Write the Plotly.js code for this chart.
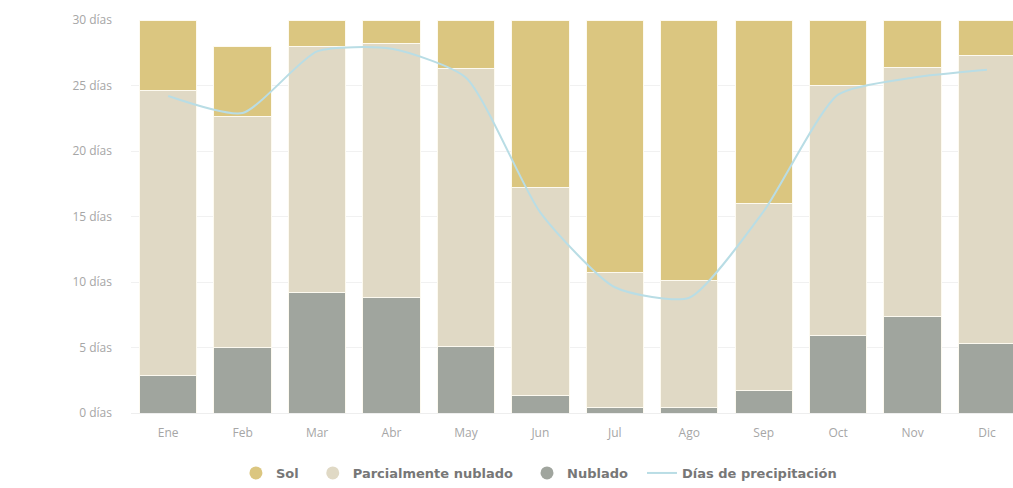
<!DOCTYPE html>
<html>
<head>
<meta charset="utf-8">
<script src="https://cdn.plot.ly/plotly-3.0.1.min.js"></script>
<style>
html,body{margin:0;padding:0;background:#fff;overflow:hidden;}
#chart{width:1013px;height:488px;}
</style>
</head>
<body>
<div id="chart"></div>
<script>
const months = ["Ene","Feb","Mar","Abr","May","Jun","Jul","Ago","Sep","Oct","Nov","Dic"];
const nublado = [2.9, 5.0, 9.2, 8.8, 5.1, 1.3, 0.4, 0.4, 1.7, 5.9, 7.4, 5.3];
const parcial = [21.7, 17.6, 18.8, 19.4, 21.2, 15.9, 10.3, 9.7, 14.3, 19.1, 19.0, 22.0];
const sol = [5.4, 5.4, 2.0, 1.8, 3.7, 12.8, 19.3, 19.9, 14.0, 5.0, 3.6, 2.7];
const precipitacion = [24.2, 22.9, 27.6, 27.8, 25.6, 15.3, 9.6, 8.8, 15.4, 24.3, 25.6, 26.2];
const yTicks = [0, 5, 10, 15, 20, 25, 30];
const yTickText = yTicks.map(v => v + " días");

const cSol = "#dbc680", cPar = "#e0d9c5", cNub = "#a0a59e", cLine = "#b9dde5";
const border = {color: "#fdfaf0", width: 1};

const traces = [
  {type:"bar", x: months, y: nublado, name:"Nublado", marker:{color:cNub, line:border}, showlegend:false, hoverinfo:"y"},
  {type:"bar", x: months, y: parcial, name:"Parcialmente nublado", marker:{color:cPar, line:border}, showlegend:false, hoverinfo:"y"},
  {type:"bar", x: months, y: sol, name:"Sol", marker:{color:cSol, line:border}, showlegend:false, hoverinfo:"y"},
  {type:"scatter", mode:"lines", x: months, y: precipitacion, name:"Días de precipitación", line:{color:cLine, width:2, shape:"spline", smoothing:0.6}, showlegend:false},
  {type:"scatter", mode:"markers", x:[null], y:[null], name:"Sol  ", marker:{color:cSol, size:13, symbol:"circle"}},
  {type:"scatter", mode:"markers", x:[null], y:[null], name:"Parcialmente nublado  ", marker:{color:cPar, size:13, symbol:"circle"}},
  {type:"scatter", mode:"markers", x:[null], y:[null], name:"Nublado  ", marker:{color:cNub, size:13, symbol:"circle"}},
  {type:"scatter", mode:"lines", x:[null], y:[null], name:"Días de precipitación", line:{color:cLine, width:2}}
];

const layout = {
  width: 1013, height: 488,
  margin: {l: 131, r: 0, t: 20, b: 74},
  paper_bgcolor: "#fff", plot_bgcolor: "#fff",
  barmode: "stack",
  bargap: 0.23,
  font: {family: "Open Sans, DejaVu Sans, sans-serif", color: "#9a9a9a", size: 12},
  xaxis: {
    type: "category",
    range: [-0.5, 11.35],
    showgrid: false, zeroline: false, showline: false,
    ticks: "", tickfont: {size: 12, color: "#a6a6a6"},
    ticklabelstandoff: 11
  },
  yaxis: {
    range: [0, 30],
    tickvals: yTicks, ticktext: yTickText,
    showgrid: true, gridcolor: "#f1f1f1", gridwidth: 1,
    zeroline: true, zerolinecolor: "#eeeeee",
    showline: false, ticks: "",
    tickfont: {size: 12, color: "#a6a6a6"},
    ticklabelstandoff: 18
  },
  showlegend: true,
  legend: {
    orientation: "h",
    x: 0.4625, xanchor: "center",
    y: -0.115, yanchor: "top",
    font: {family: "DejaVu Sans, sans-serif", size: 13, color: "#777777", weight: "bold"},
    itemwidth: 30,
    traceorder: "normal"
  }
};

Plotly.newPlot("chart", traces, layout, {displayModeBar: false, staticPlot: true});
</script>
</body>
</html>
